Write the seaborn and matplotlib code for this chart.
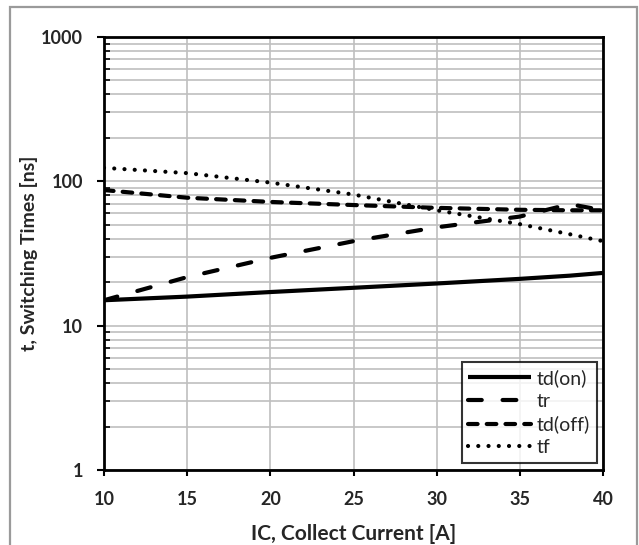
import numpy as np
import pandas as pd
import matplotlib
matplotlib.use("Agg")
import matplotlib.pyplot as plt
import matplotlib.ticker as mticker
from matplotlib.patches import Rectangle
import seaborn as sns

# ---- data ----
ic = [10, 15, 20, 25, 30, 35, 38, 40]
td_on = [15.0, 15.9, 17.1, 18.3, 19.6, 21.1, 22.2, 23.2]
tr = [15.0, 21.7, 29.5, 38.5, 48.0, 57.0, 69.5, 63.0]
td_off = [87.0, 77.0, 72.0, 68.5, 65.5, 63.5, 63.0, 63.0]
tf = [124.0, 114.0, 98.0, 81.0, 63.0, 50.5, 43.0, 38.5]
series_names = ["td(on)", "tr", "td(off)", "tf"]
x_ticks = [10, 15, 20, 25, 30, 35, 40]
y_ticks = [1, 10, 100, 1000]

df = pd.DataFrame({
    "IC": ic * 4,
    "t": td_on + tr + td_off + tf,
    "series": sum([[n] * len(ic) for n in series_names], []),
})

sns.set_theme(style="white")
plt.rcParams["font.family"] = ["Lato", "DejaVu Sans"]

fig = plt.figure(figsize=(6.39, 5.45), dpi=100)
ax = fig.add_axes([104 / 639, 1 - 470 / 545, (603 - 104) / 639, (470 - 37) / 545])

# outer border
fig.patches.append(Rectangle((10 / 639, -0.05), (637 - 10) / 639, 1.05 - 7 / 545,
                             transform=fig.transFigure, fill=False,
                             edgecolor="#9a9a9a", linewidth=1.6))

LW = 3.0
dashes = {"td(on)": "", "tr": (3.3, 5.0), "td(off)": (2.3, 2.2), "tf": (0.01, 2.45)}
sns.lineplot(data=df, x="IC", y="t", hue="series", style="series",
             palette=["black"] * 4, dashes=dashes, linewidth=LW,
             ax=ax, legend=True)
for line in ax.get_lines():
    line.set_dash_capstyle("round")
    line.set_solid_capstyle("butt")

ax.set_yscale("log")
ax.set_xlim(10, 40)
ax.set_ylim(1, 1000)
ax.set_xticks(x_ticks)
ax.set_yticks(y_ticks)
ax.yaxis.set_major_formatter(mticker.FuncFormatter(lambda v, p: f"{int(v)}"))
ax.yaxis.set_minor_locator(mticker.LogLocator(base=10, subs=np.arange(2, 10)))
ax.yaxis.set_minor_formatter(mticker.NullFormatter())

ax.grid(True, which="major", color="#bfbfbf", linewidth=1.2)
ax.grid(True, which="minor", axis="y", color="#bfbfbf", linewidth=1.2)
ax.set_axisbelow(True)

for s in ax.spines.values():
    s.set_color("black")
    s.set_linewidth(2)

ax.tick_params(axis="y", which="major", direction="out", length=5, width=1.5,
               color="black", labelsize=13, pad=10, left=True)
ax.tick_params(axis="x", which="major", direction="out", length=4, width=1.5,
               color="black", labelsize=13, pad=11, bottom=True)
ax.tick_params(axis="y", which="minor", direction="in", length=4, width=1.2,
               color="black", left=True)
for lab in ax.get_xticklabels() + ax.get_yticklabels():
    lab.set_fontweight("bold")

ax.set_xlabel("IC, Collect Current [A]", fontsize=15, fontweight="bold", labelpad=12)
ax.set_ylabel("t, Switching Times [ns]", fontsize=14, fontweight="bold", labelpad=2)

leg = ax.legend(loc="lower right", bbox_to_anchor=(0.987, 0.016), frameon=True,
                fancybox=False, edgecolor="black", fontsize=14,
                handlelength=3.2, handletextpad=0.3, labelspacing=0.3,
                borderpad=0.35, borderaxespad=0)
leg.get_frame().set_linewidth(1.5)
for h in leg.get_lines():
    h.set_linewidth(LW)

fig.savefig("out.png", dpi=100, facecolor="white")
